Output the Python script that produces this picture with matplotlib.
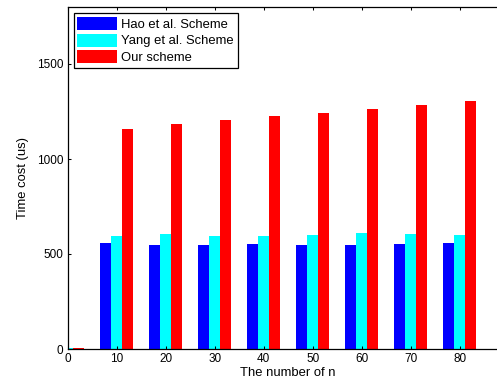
import numpy as np
import matplotlib.pyplot as plt

plt.rcParams['font.family'] = ['Liberation Sans', 'DejaVu Sans']

# 데이터
n = [0, 10, 20, 30, 40, 50, 60, 70, 80]
hao = [0, 556, 546, 547, 552, 550, 550, 552, 556]
yang = [3, 595, 605, 596, 596, 600, 611, 605, 600]
ours = [5, 1160, 1182, 1204, 1224, 1244, 1265, 1284, 1305]
labels = ["Hao et al. Scheme", "Yang et al. Scheme", "Our scheme"]
colors = ["#0000ff", "#00ffff", "#ff0000"]

fig = plt.figure(figsize=(4.97, 3.85), dpi=100)
ax = fig.add_axes([67.7 / 497, 36 / 385, (90 * 4.9) / 497, 342 / 385])

x = np.array(n, dtype=float)
w = 10 * (2 / 3) / 3            # MATLAB 그룹 막대 폭
series = [hao, yang, ours]
for i, vals in enumerate(series):
    ax.bar(x + (i - 1) * w, vals, width=w, color=colors[i],
           edgecolor='none', label=labels[i])

ax.set_xlim(0, 90)
ax.set_ylim(0, 1800)
ax.set_xticks(n)
ax.set_yticks([0, 500, 1000, 1500])
ax.tick_params(direction='in', length=2.5, width=0.75, labelsize=8.5,
               top=True, right=True, pad=3)
for s in ax.spines.values():
    s.set_linewidth(0.9)

ax.set_xlabel("The number of n", fontsize=9.4, labelpad=1)
ax.set_ylabel("Time cost (us)", fontsize=9.4, labelpad=6)

leg = ax.legend(loc='upper left', fontsize=9.4, fancybox=False,
                edgecolor='black', framealpha=1, handlelength=3.05,
                handleheight=1.15, handletextpad=0.3, labelspacing=0.22,
                borderpad=0.3, borderaxespad=0.45)
leg.get_frame().set_linewidth(0.9)

fig.savefig("out.png", dpi=100)
